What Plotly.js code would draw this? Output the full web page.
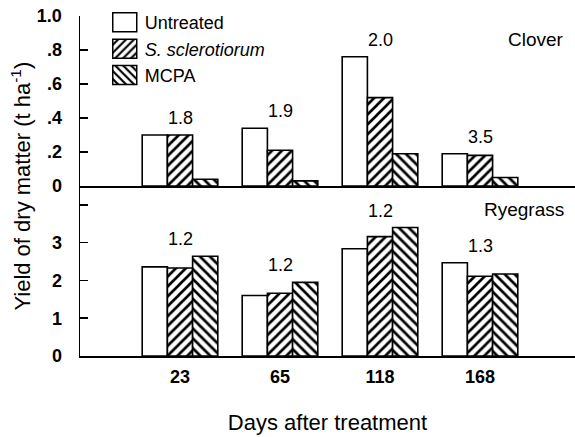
<!DOCTYPE html>
<html>
<head>
<meta charset="utf-8">
<script src="https://cdn.plot.ly/plotly-3.0.1.min.js"></script>
<style>
  html, body { margin: 0; padding: 0; background: #fff; }
  #chart { width: 575px; height: 437px; }
</style>
</head>
<body>
<div id="chart"></div>
<script>
// ---- data ----
const days = ['23', '65', '118', '168'];
const seriesNames = ['Untreated', '<i>S. sclerotiorum</i>', 'MCPA'];

const cloverUntreated = [0.30, 0.34, 0.76, 0.19];
const cloverSclero    = [0.30, 0.21, 0.52, 0.18];
const cloverMCPA      = [0.04, 0.03, 0.19, 0.05];

const ryeUntreated = [2.36, 1.60, 2.84, 2.47];
const ryeSclero    = [2.33, 1.66, 3.16, 2.11];
const ryeMCPA      = [2.64, 1.95, 3.40, 2.17];

const cloverLabels = ['1.8', '1.9', '2.0', '3.5'];
const ryeLabels    = ['1.2', '1.2', '1.2', '1.3'];

const cloverTickVals = [0, 0.2, 0.4, 0.6, 0.8, 1.0];
const cloverTickText = ['0', '.2', '.4', '.6', '.8', '1.0'];
const ryeTickVals = [0, 1, 2, 3, 4];
const ryeTickText = ['0', '1', '2', '3', ''];

// ---- styles ----
const FONT = 'Liberation Sans, Arial, Helvetica, sans-serif';
const patterns = [
  { shape: '' },
  { shape: '/', fgcolor: '#000', bgcolor: '#fff', size: 7, solidity: 0.38 },
  { shape: '\\', fgcolor: '#000', bgcolor: '#fff', size: 7, solidity: 0.38 }
];

function barTrace(vals, i, yaxis, showLegend) {
  return {
    type: 'bar',
    x: days,
    y: vals,
    name: seriesNames[i],
    legendgroup: 's' + i,
    showlegend: showLegend,
    xaxis: yaxis === 'y2' ? 'x2' : 'x',
    yaxis: yaxis,
    marker: {
      color: '#fff',
      line: { color: '#000', width: 1.6 },
      pattern: patterns[i]
    },
    hoverinfo: 'skip'
  };
}

const cloverSeries = [cloverUntreated, cloverSclero, cloverMCPA];
const ryeSeries = [ryeUntreated, ryeSclero, ryeMCPA];

const data = [];
cloverSeries.forEach((s, i) => data.push(barTrace(s, i, 'y2', true)));
ryeSeries.forEach((s, i) => data.push(barTrace(s, i, 'y', false)));

const labelFont = { family: FONT, size: 18, color: '#000' };
const annotations = [];
days.forEach((d, k) => {
  annotations.push({
    x: k, y: Math.max(cloverUntreated[k], cloverSclero[k], cloverMCPA[k]),
    xref: 'x2', yref: 'y2', text: cloverLabels[k], showarrow: false,
    yanchor: 'bottom', yshift: 5, font: labelFont
  });
  annotations.push({
    x: k, y: Math.max(ryeUntreated[k], ryeSclero[k], ryeMCPA[k]),
    xref: 'x', yref: 'y', text: ryeLabels[k], showarrow: false,
    yanchor: 'bottom', yshift: 5, font: labelFont
  });
});
annotations.push({
  xref: 'paper', yref: 'paper', x: 0.982, y: 0.932, xanchor: 'right', yanchor: 'middle',
  text: 'Clover', showarrow: false, font: { family: FONT, size: 19, color: '#000' }
});
annotations.push({
  xref: 'paper', yref: 'paper', x: 0.982, y: 0.432, xanchor: 'right', yanchor: 'middle',
  text: 'Ryegrass', showarrow: false, font: { family: FONT, size: 19, color: '#000' }
});
annotations.push({
  xref: 'paper', yref: 'paper', x: -0.12, y: 0.50, xanchor: 'center', yanchor: 'middle',
  textangle: -90, text: 'Yield of dry matter (t ha<sup>-1</sup>)', showarrow: false,
  font: { family: FONT, size: 22, color: '#000' }
});

const tickFont = { family: FONT, size: 18, color: '#000', weight: 'bold' };

const layout = {
  width: 575,
  height: 437,
  margin: { l: 80, r: 0, t: 16, b: 81 },
  paper_bgcolor: '#fff',
  plot_bgcolor: '#fff',
  barmode: 'group',
  bargap: 0.244,
  bargroupgap: 0,
  showlegend: true,
  legend: {
    x: 0.05, y: 1.035, xanchor: 'left', yanchor: 'top',
    bgcolor: 'rgba(0,0,0,0)', borderwidth: 0, tracegroupgap: 0,
    font: { family: FONT, size: 18, color: '#000' }
  },
  xaxis: {
    type: 'category', anchor: 'y', domain: [0, 1], range: [-1.0, 3.95],
    showline: true, linecolor: '#000', linewidth: 1.5, ticks: '',
    showgrid: false, zeroline: false, tickfont: tickFont, ticklabelstandoff: 4,
    title: { text: 'Days after treatment', font: { family: FONT, size: 22, color: '#000' }, standoff: 28 }
  },
  xaxis2: {
    type: 'category', anchor: 'y2', matches: 'x', domain: [0, 1],
    showline: true, linecolor: '#000', linewidth: 1.5, ticks: '',
    showticklabels: false, showgrid: false, zeroline: false
  },
  yaxis: {
    domain: [0, 0.5], range: [0, 4.5], anchor: 'x',
    tickvals: ryeTickVals, ticktext: ryeTickText,
    ticks: 'inside', ticklen: 8, tickwidth: 1.5, tickcolor: '#000',
    showline: true, linecolor: '#000', linewidth: 1.5,
    showgrid: false, zeroline: false, tickfont: tickFont, ticklabelstandoff: 13
  },
  yaxis2: {
    domain: [0.5, 1], range: [0, 1], anchor: 'x2',
    tickvals: cloverTickVals, ticktext: cloverTickText,
    ticks: 'inside', ticklen: 8, tickwidth: 1.5, tickcolor: '#000',
    showline: true, linecolor: '#000', linewidth: 1.5,
    showgrid: false, zeroline: false, tickfont: tickFont, ticklabelstandoff: 13
  },
  annotations: annotations,
  font: { family: FONT, color: '#000' }
};

Plotly.newPlot('chart', data, layout, { displayModeBar: false, staticPlot: true }).then(() => {
  document.querySelectorAll('#chart .legend .legendpoints path').forEach(p => {
    p.setAttribute('d', 'M12,9.5H-12V-9.5H12Z');
    p.style.strokeWidth = '1.5px';
  });
});
</script>
</body>
</html>
